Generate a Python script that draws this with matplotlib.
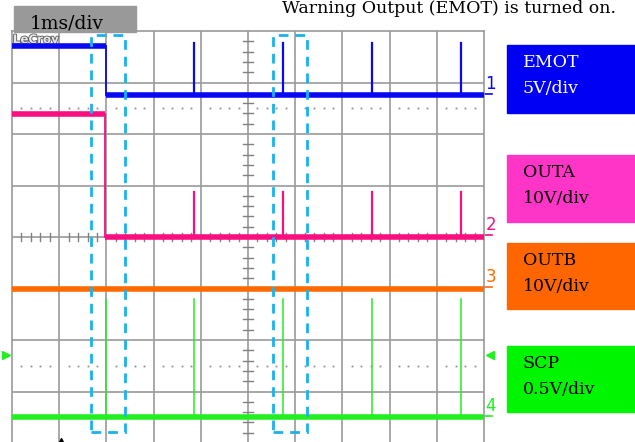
import matplotlib
matplotlib.use("Agg")
import matplotlib.pyplot as plt
import matplotlib.patheffects as pe
from matplotlib.patches import Rectangle

# ---------------- data (time in ms, amplitude in screen divisions) ----------------
time_per_div_label = "1ms/div"
title_text = "Warning Output (EMOT) is turned on."
fall_time = 2.0
spike_times = [3.86, 5.74, 7.63, 9.51]

emot_high, emot_low, emot_spike = 3.70, 2.75, 3.77
outa_high, outa_low, outa_spike = 2.38, 0.0, 0.87
outb_level = -1.0
scp_level, scp_spike = -3.50, -1.20
scp_spike_times = [2.0] + spike_times
trig_level = -2.29

windows = [(1.67, 2.39), (5.53, 6.25)]
window_y = (-3.79, 3.92)

channel_names = ["EMOT", "OUTA", "OUTB", "SCP"]
channel_scales = ["5V/div", "10V/div", "10V/div", "0.5V/div"]
channel_levels = [emot_low, outa_low, outb_level, scp_level]
trace_colors = ["#0808F2", "#FA0E80", "#FF6A00", "#22EE22"]
box_colors = ["#0000F5", "#FF35C8", "#FF6600", "#00F500"]
box_text_colors = ["white", "black", "black", "black"]

# ---------------- figure ----------------
W, H = 635, 442
fig = plt.figure(figsize=(W / 100, H / 100), dpi=100)

def fx(x):
    return x / W

def fy(y):
    return 1 - y / H

ax = fig.add_axes([fx(12), fy(443), fx(484) - fx(12), fy(31) - fy(443)])
ax.set_xlim(0, 10)
ax.set_ylim(-4, 4)
ax.set_xticks([])
ax.set_yticks([])
for s in ax.spines.values():
    s.set_color("#9a9a9a")
    s.set_linewidth(1.2)

grid_c = "#9a9a9a"
for i in range(1, 10):
    ax.axvline(i, color=grid_c, lw=1.2, zorder=1)
for j in range(-3, 4):
    ax.axhline(j, color=grid_c, lw=1.2, zorder=1)

# minor ticks on center lines
for k in range(50):
    x = k * 0.2
    if k % 5 == 0:
        continue
    ax.plot([x, x], [-0.08, 0.08], color="#808080", lw=1.0, zorder=1)
for k in range(-20, 20):
    y = k * 0.2
    if k % 5 == 0:
        continue
    ax.plot([4.895, 5.105], [y, y], color="#808080", lw=1.0, zorder=1)

# dotted reference lines at +/-2.5 div
dots_x = [k * 0.2 for k in range(51) if k % 5 != 0]
for yl in (2.5, -2.5):
    ax.plot(dots_x, [yl] * len(dots_x), ls="none", marker="s", ms=1.3,
            mew=0, color="#909090", zorder=1)

# logo
ax.text(0.02, 3.96, "LeCroy", fontsize=8.5, fontweight="bold", color="#e8e8e8",
        va="top", ha="left", family="DejaVu Sans", zorder=2,
        path_effects=[pe.withStroke(linewidth=1.2, foreground="#555555")])

LW = 4.0
thin = 1.3


def draw_channel(high, low, fall, spikes, top, color, z, spike_lw=1.6):
    if fall is not None:
        ax.plot([0, fall], [high, high], color=color, lw=LW, zorder=z,
                solid_capstyle="butt")
        ax.plot([fall, fall], [high, low], color=color, lw=thin, zorder=z)
        ax.plot([fall, 10], [low, low], color=color, lw=LW, zorder=z,
                solid_capstyle="butt")
    else:
        ax.plot([0, 10], [low, low], color=color, lw=LW, zorder=z,
                solid_capstyle="butt")
    for s in spikes:
        ax.plot([s, s], [low, top], color=color, lw=spike_lw, zorder=z)


draw_channel(outb_level, outb_level, None, [], outb_level, trace_colors[2], 3)
draw_channel(scp_level, scp_level, None, scp_spike_times, scp_spike,
             trace_colors[3], 3, spike_lw=1.1)
draw_channel(outa_high, outa_low, fall_time - 0.03, spike_times, outa_spike,
             trace_colors[1], 4)
draw_channel(emot_high, emot_low, fall_time, spike_times, emot_spike,
             trace_colors[0], 5)

# dashed windows
for (x0, x1) in windows:
    ax.add_patch(Rectangle((x0, window_y[0]), x1 - x0, window_y[1] - window_y[0],
                           fill=False, ec="#1AB2EE", lw=2.0, ls=(0, (3.5, 2.5)),
                           zorder=6))

# channel markers on the right
for i, (lvl, c) in enumerate(zip(channel_levels, trace_colors)):
    ax.text(10.03, lvl + 0.05, str(i + 1), color=c, fontsize=12, va="bottom",
            ha="left", family="DejaVu Sans", clip_on=False)
    ax.plot([10.0, 10.17], [lvl + 0.03, lvl + 0.03], color=c, lw=1.2,
            clip_on=False)
ax.plot([10.12], [trig_level], marker="<", color=trace_colors[3], ms=6,
        clip_on=False)
ax.plot([-0.13], [trig_level], marker=">", color=trace_colors[3], ms=6,
        clip_on=False)
ax.plot([1.04], [-3.98], marker="^", color="black", ms=6, clip_on=False)

# top labels
fig.patches.append(Rectangle((fx(14), fy(32)), fx(136) - fx(14), fy(6) - fy(32),
                             transform=fig.transFigure, color="#999999", zorder=0))
fig.text(fx(30), fy(28), time_per_div_label, fontsize=13.5, family="DejaVu Serif",
         va="baseline", ha="left", color="black")
fig.text(fx(282), fy(13), title_text, fontsize=12.5, family="DejaVu Serif",
         va="baseline", ha="left", color="black")

# right boxes
box_tops = [45, 155, 243, 346]
box_bottoms = [113, 222, 309, 412]
for name, scale, top, bot, bc, tc in zip(channel_names, channel_scales, box_tops,
                                        box_bottoms, box_colors, box_text_colors):
    fig.patches.append(Rectangle((fx(507), fy(bot)), fx(635) - fx(507),
                                 fy(top) - fy(bot), transform=fig.transFigure,
                                 color=bc, zorder=0))
    fig.text(fx(523), fy(top + 22), name, fontsize=12.5, family="DejaVu Serif",
             va="baseline", ha="left", color=tc)
    fig.text(fx(523), fy(top + 48), scale, fontsize=12.5, family="DejaVu Serif",
             va="baseline", ha="left", color=tc)

fig.savefig("out.png", dpi=100)
